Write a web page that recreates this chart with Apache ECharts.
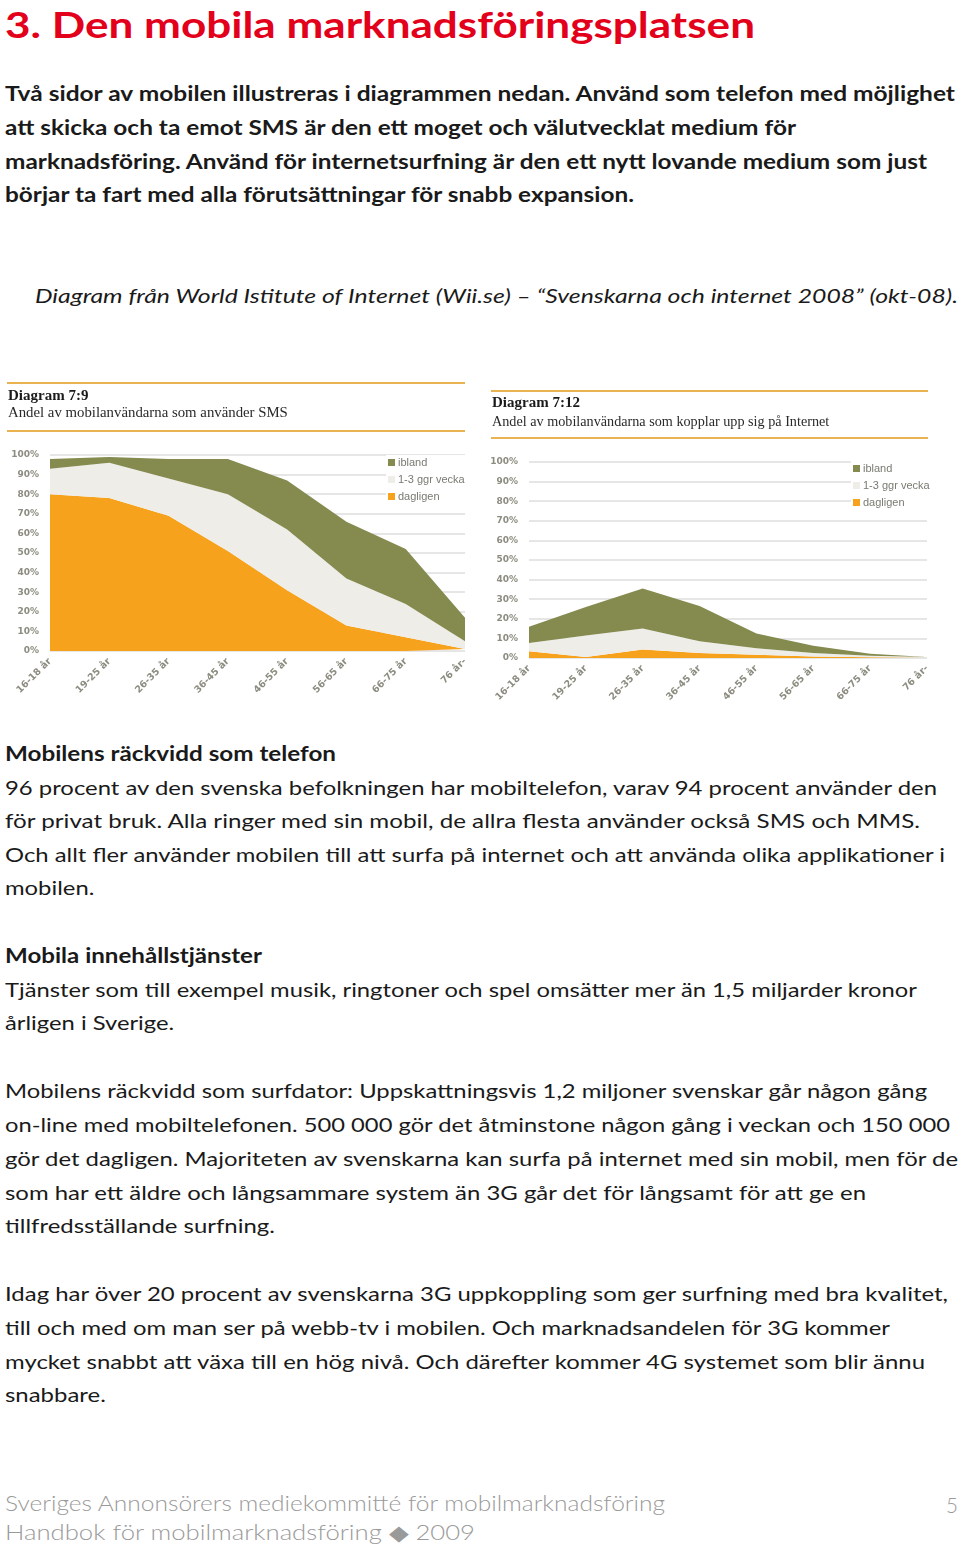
<!DOCTYPE html>
<html>
<head>
<meta charset="utf-8">
<script src="https://cdn.jsdelivr.net/npm/echarts@6/dist/echarts.min.js"></script>
<style>
  html, body { margin: 0; padding: 0; background: #fff; }
  #page { position: relative; width: 960px; height: 1547px; overflow: hidden; }
  .ln { position: absolute; white-space: nowrap; line-height: 1; transform-origin: 0 50%; }
  #charts { position: absolute; left: 0; top: 370px; width: 960px; height: 350px; }
</style>
</head>
<body>
<div id="page">
  <div id="charts"></div>
</div>
<script>
// ---------- chart data ----------
var categories = ['16-18 år', '19-25 år', '26-35 år', '36-45 år', '46-55 år', '56-65 år', '66-75 år', '76 år-'];
var seriesNames = ['ibland', '1-3 ggr vecka', 'dagligen'];
var yTicks = [0, 10, 20, 30, 40, 50, 60, 70, 80, 90, 100];
// Diagram 7:9 – SMS
var smsDagligen = [80, 78, 69, 51, 31, 13, 7, 1];
var smsVecka    = [13, 18, 19, 29, 31, 24, 17, 4];
var smsIbland   = [5, 3, 10, 18, 25, 29, 28, 12];
// Diagram 7:12 – Internet
var netDagligen = [3.5, 0.5, 4.3, 2.5, 1.7, 0.8, 0.4, 0.1];
var netVecka    = [4.2, 11, 10.7, 6, 3.3, 1.7, 0.8, 0.2];
var netIbland   = [8.3, 14.5, 20.5, 18, 7.5, 3.8, 1, 0.2];

// ---------- page text ----------
var BODY = "'Lato','Open Sans',sans-serif";
var lines = [
  {t: '3. Den mobila marknadsföringsplatsen', x: 5, y: 25, s: 37, wt: 700, c: '#e3001b', w: 750},
  {t: 'Två sidor av mobilen illustreras i diagrammen nedan. Använd som telefon med möjlighet', x: 5, y: 94, s: 20, wt: 700, c: '#1a1a1a', w: 950},
  {t: 'att skicka och ta emot SMS är den ett moget och välutvecklat medium för', x: 5, y: 128, s: 20, wt: 700, c: '#1a1a1a', w: 791},
  {t: 'marknadsföring. Använd för internetsurfning är den ett nytt lovande medium som just', x: 5, y: 162, s: 20, wt: 700, c: '#1a1a1a', w: 922},
  {t: 'börjar ta fart med alla förutsättningar för snabb expansion.', x: 5, y: 195, s: 20, wt: 700, c: '#1a1a1a', w: 629},
  {t: 'Diagram från World Istitute of Internet (Wii.se) – “Svenskarna och internet 2008” (okt-08).', x: 35, y: 296, s: 20, wt: 400, st: 'italic', c: '#1a1a1a', w: 923},
  {t: 'Mobilens räckvidd som telefon', x: 5, y: 754, s: 20, wt: 700, c: '#1a1a1a', w: 331},
  {t: '96 procent av den svenska befolkningen har mobiltelefon, varav 94 procent använder den', x: 5, y: 788, s: 20, wt: 400, c: '#1a1a1a', w: 932},
  {t: 'för privat bruk.  Alla ringer med sin mobil, de allra flesta använder också SMS och MMS.', x: 5, y: 821, s: 20, wt: 400, c: '#1a1a1a', w: 915},
  {t: 'Och allt fler använder mobilen till att surfa på internet och att använda olika applikationer i', x: 5, y: 855, s: 20, wt: 400, c: '#1a1a1a', w: 940},
  {t: 'mobilen.', x: 5, y: 888, s: 20, wt: 400, c: '#1a1a1a', w: null},
  {t: 'Mobila innehållstjänster', x: 5, y: 956, s: 20, wt: 700, c: '#1a1a1a', w: 257},
  {t: 'Tjänster som till exempel musik, ringtoner och spel omsätter mer än 1,5 miljarder kronor', x: 5, y: 990, s: 20, wt: 400, c: '#1a1a1a', w: 912},
  {t: 'årligen i Sverige.', x: 5, y: 1023, s: 20, wt: 400, c: '#1a1a1a', w: null},
  {t: 'Mobilens räckvidd som surfdator: Uppskattningsvis 1,2 miljoner svenskar går någon gång', x: 5, y: 1091, s: 20, wt: 400, c: '#1a1a1a', w: 922},
  {t: 'on-line med mobiltelefonen. 500 000 gör det åtminstone någon gång i veckan och 150 000', x: 5, y: 1125, s: 20, wt: 400, c: '#1a1a1a', w: 945},
  {t: 'gör det dagligen. Majoriteten av svenskarna kan surfa på internet med sin mobil, men för de', x: 5, y: 1159, s: 20, wt: 400, c: '#1a1a1a', w: 953},
  {t: 'som har ett äldre och långsammare system än 3G går det för långsamt för att ge en', x: 5, y: 1193, s: 20, wt: 400, c: '#1a1a1a', w: 861},
  {t: 'tillfredsställande surfning.', x: 5, y: 1226, s: 20, wt: 400, c: '#1a1a1a', w: null},
  {t: 'Idag har över 20 procent av svenskarna 3G uppkoppling som ger surfning med bra kvalitet,', x: 5, y: 1294, s: 20, wt: 400, c: '#1a1a1a', w: 943},
  {t: 'till och med om man ser på webb-tv i mobilen. Och marknadsandelen för 3G kommer', x: 5, y: 1328, s: 20, wt: 400, c: '#1a1a1a', w: 885},
  {t: 'mycket snabbt att växa till en hög nivå. Och därefter kommer 4G systemet som blir ännu', x: 5, y: 1362, s: 20, wt: 400, c: '#1a1a1a', w: 920},
  {t: 'snabbare.', x: 5, y: 1395, s: 20, wt: 400, c: '#1a1a1a', w: null},
  {t: 'Sveriges Annonsörers mediekommitté för mobilmarknadsföring', x: 5, y: 1504, s: 21, wt: 300, c: '#9a9a9a', w: 660},
  {t: 'Handbok för mobilmarknadsföring ◆ 2009', x: 5, y: 1533, s: 21, wt: 300, c: '#9a9a9a', w: 470},
  {t: '5', x: 946, y: 1506, s: 21, wt: 300, c: '#9a9a9a', w: 12}
];

var page = document.getElementById('page');
var prevScale = 1;
lines.forEach(function (L) {
  var d = document.createElement('div');
  d.className = 'ln';
  d.textContent = L.t;
  d.style.fontFamily = BODY;
  d.style.fontSize = L.s + 'px';
  d.style.fontWeight = L.wt;
  d.style.fontStyle = L.st || 'normal';
  d.style.color = L.c;
  d.style.left = L.x + 'px';
  d.style.top = (L.y - L.s * 0.55) + 'px';
  page.appendChild(d);
  var nat = d.getBoundingClientRect().width;
  var sc = L.w ? L.w / nat : prevScale;
  prevScale = sc;
  d.style.transform = 'scaleX(' + sc.toFixed(4) + ')';
});

// ---------- charts ----------
var COL_IBLAND = '#858a4f', COL_VECKA = '#efede8', COL_DAG = '#f6a21c';
var ORANGE_RULE = '#e9b352';
var AXIS_TXT = '#8c8c80';
var chart = echarts.init(document.getElementById('charts'), null, {renderer: 'canvas'});

function areaSeries(name, data, xi, color) {
  return {
    name: name, type: 'line', stack: 'tot' + xi, xAxisIndex: xi, yAxisIndex: xi,
    data: data, symbol: 'none', smooth: false,
    lineStyle: {width: 0}, areaStyle: {color: color, opacity: 1},
    itemStyle: {color: color}, emphasis: {disabled: true}
  };
}
function xAx(gi) {
  return {
    type: 'category', gridIndex: gi, data: categories, boundaryGap: false,
    axisLine: {show: false}, axisTick: {show: false},
    axisLabel: {interval: 0, rotate: 45, margin: 9, color: AXIS_TXT,
      fontFamily: 'DejaVu Sans', fontWeight: 'bold', fontSize: 9.5}
  };
}
function yAx(gi) {
  return {
    type: 'value', gridIndex: gi, min: yTicks[0], max: yTicks[yTicks.length - 1], interval: 10,
    axisLine: {show: false}, axisTick: {show: false},
    axisLabel: {formatter: '{value}%', margin: 11, color: AXIS_TXT,
      fontFamily: 'DejaVu Sans', fontWeight: 'bold', fontSize: 9}
    ,
    splitLine: {lineStyle: {color: '#dedede', width: 1.5}}
  };
}
function legendAt(left, top) {
  return {
    data: seriesNames, orient: 'vertical', left: left, top: top,
    itemWidth: 7, itemHeight: 7, itemGap: 6, icon: 'rect',
    backgroundColor: '#ffffff', padding: [2, 4, 2, 2], selectedMode: false,
    textStyle: {color: '#7a7a72', fontFamily: 'Liberation Sans', fontSize: 11, padding: [0, 0, 0, -2]}
  };
}
function header(x1, x2, yTop, yT, yS, yBot, title, sub, subSize) {
  return [
    {type: 'line', shape: {x1: x1, y1: yTop, x2: x2, y2: yTop}, style: {stroke: ORANGE_RULE, lineWidth: 2}},
    {type: 'text', x: x1 + 1, y: yT, style: {text: title, font: 'bold 15px "Liberation Serif"', fill: '#1a1a1a', textVerticalAlign: 'middle'}},
    {type: 'text', x: x1 + 1, y: yS, style: {text: sub, font: subSize + 'px "Liberation Serif"', fill: '#2a2a2a', textVerticalAlign: 'middle'}},
    {type: 'line', shape: {x1: x1, y1: yBot, x2: x2, y2: yBot}, style: {stroke: ORANGE_RULE, lineWidth: 2}}
  ];
}

chart.setOption({
  animation: false,
  backgroundColor: '#ffffff',
  grid: [
    {left: 50, top: 85, width: 415, height: 196},
    {left: 529, top: 92, width: 398, height: 196}
  ],
  xAxis: [xAx(0), xAx(1)],
  yAxis: [yAx(0), yAx(1)],
  legend: [legendAt(386, 85), legendAt(851, 91)],
  graphic: header(7, 465, 13, 26, 43, 61, 'Diagram 7:9', 'Andel av mobilanvändarna som använder SMS', 14.8)
    .concat(header(491, 928, 21, 33, 52, 68, 'Diagram 7:12', 'Andel av mobilanvändarna som kopplar upp sig på Internet', 14.2)),
  series: [
    areaSeries('dagligen', smsDagligen, 0, COL_DAG),
    areaSeries('1-3 ggr vecka', smsVecka, 0, COL_VECKA),
    areaSeries('ibland', smsIbland, 0, COL_IBLAND),
    areaSeries('dagligen', netDagligen, 1, COL_DAG),
    areaSeries('1-3 ggr vecka', netVecka, 1, COL_VECKA),
    areaSeries('ibland', netIbland, 1, COL_IBLAND)
  ]
});
</script>
</body>
</html>
